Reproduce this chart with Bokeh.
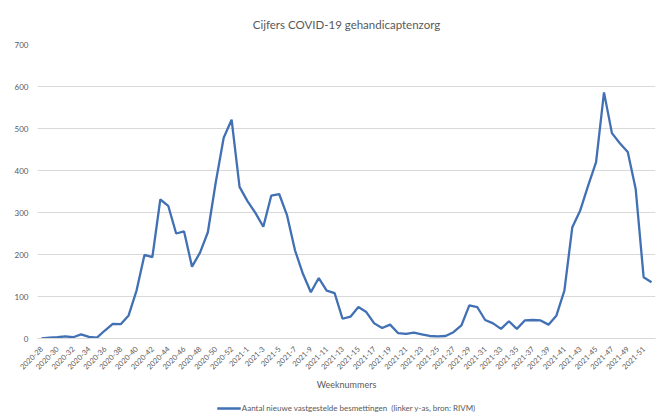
import math
from bokeh.plotting import figure
from bokeh.layouts import column
from bokeh.models import ColumnDataSource, Legend, LegendItem, Range1d, FixedTicker
from bokeh.embed import file_html
from bokeh.resources import INLINE

# ---- data ----
weeks_2020 = list(range(28, 54))      # 2020-28 .. 2020-53
weeks_2021 = list(range(1, 53))       # 2021-1 .. 2021-52
week_labels = [f"2020-{w}" for w in weeks_2020] + [f"2021-{w}" for w in weeks_2021]

cases_2020 = [0, 2, 3, 5, 3, 10, 4, 2, 19, 35, 34, 55, 114, 199, 194, 331, 316, 250,
              255, 171, 204, 253, 372, 478, 521, 361]
cases_2021 = [327, 299, 266, 340, 344, 293, 210, 154, 110, 144, 114, 108, 47, 52, 75, 63,
              36, 25, 33, 13, 11, 14, 10, 6, 5, 6, 15, 31, 79, 75, 44, 36, 23, 41, 23, 43,
              44, 43, 33, 55, 114, 265, 305, 364, 420, 586, 489, 465, 444, 356, 146, 134]
cases = cases_2020 + cases_2021

# labels shown on the axis (every second week)
shown_labels = week_labels[::2]

title_text = "Cijfers COVID-19 gehandicaptenzorg"
x_title = "Weeknummers"
series_name = "Aantal nieuwe vastgestelde besmettingen  (linker y-as, bron: RIVM)"

FONT = "Lato"
GREY = "#595959"
BLUE = "#4170b4"
LINE_W = 2.3

pos = list(range(len(week_labels)))
src = ColumnDataSource(dict(pos=pos, week=week_labels, cases=cases))

p = figure(width=659, height=398, output_backend="svg", toolbar_location=None,
           x_range=Range1d(-0.5, len(week_labels) - 0.5),
           y_range=Range1d(0, 700),
           min_border_left=37, min_border_right=4, min_border_top=44, min_border_bottom=60)

r = p.line("pos", "cases", source=src, line_color=BLUE, line_width=LINE_W)

p.title.text = title_text
p.title.align = "center"
p.title.text_font = FONT
p.title.text_font_size = "11.5px"
p.title.text_font_style = "normal"
p.title.text_color = GREY
p.title.offset = 0
p.title.standoff = 27

p.outline_line_color = None
p.xgrid.grid_line_color = None
p.ygrid.grid_line_color = "#d9d9d9"
p.ygrid.grid_line_width = 1

p.yaxis.ticker = FixedTicker(ticks=[0, 100, 200, 300, 400, 500, 600, 700])
p.yaxis.axis_line_color = None
p.yaxis.major_tick_line_color = None
p.yaxis.minor_tick_line_color = None
p.yaxis.major_label_text_font = FONT
p.yaxis.major_label_text_font_size = "8px"
p.yaxis.major_label_text_color = GREY
p.yaxis.major_label_standoff = 3

shown_pos = [i for i, w in enumerate(week_labels) if w in shown_labels]
p.xaxis.ticker = FixedTicker(ticks=shown_pos)
p.xaxis.major_label_overrides = {i: week_labels[i] for i in shown_pos}
p.xaxis.axis_line_color = "#d9d9d9"
p.xaxis.major_tick_line_color = None
p.xaxis.minor_tick_line_color = None
p.xaxis.major_label_orientation = math.pi / 4
p.xaxis.major_label_text_font = FONT
p.xaxis.major_label_text_font_size = "7.5px"
p.xaxis.major_label_text_color = GREY
p.xaxis.major_label_standoff = 3
p.xaxis.axis_label = x_title
p.xaxis.axis_label_text_font = FONT
p.xaxis.axis_label_text_font_size = "9px"
p.xaxis.axis_label_text_font_style = "normal"
p.xaxis.axis_label_text_color = GREY
p.xaxis.axis_label_standoff = 4

# legend strip below the chart (its line renderer lies outside this strip's range)
lg = figure(width=659, height=19, output_backend="svg", toolbar_location=None,
            x_range=Range1d(0, 1), y_range=Range1d(-2000, -1999),
            x_axis_type=None, y_axis_type=None,
            min_border_left=16, min_border_right=0, min_border_top=0, min_border_bottom=0)
lg.outline_line_color = None
lg.xgrid.grid_line_color = None
lg.ygrid.grid_line_color = None
r_leg = lg.line("pos", "cases", source=src, line_color=BLUE, line_width=LINE_W)
legend = Legend(items=[LegendItem(label=series_name, renderers=[r_leg])],
                orientation="horizontal", location="center",
                label_text_font=FONT, label_text_font_size="8px", label_text_color=GREY,
                glyph_width=24, glyph_height=10, label_standoff=1,
                border_line_color=None, background_fill_alpha=0,
                padding=2, margin=0)
lg.add_layout(legend, "center")

layout = column(p, lg, spacing=0)
open("out.html", "w").write(file_html(layout, INLINE))
